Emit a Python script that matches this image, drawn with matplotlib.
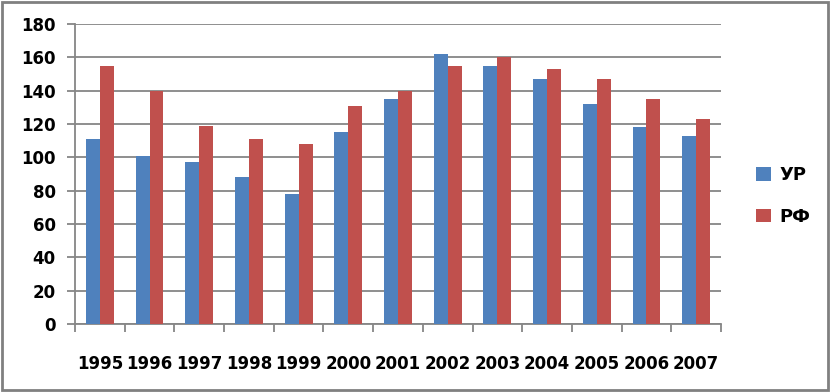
import matplotlib.pyplot as plt
from matplotlib.patches import Rectangle
import numpy as np

years = ["1995", "1996", "1997", "1998", "1999", "2000", "2001",
         "2002", "2003", "2004", "2005", "2006", "2007"]
ur_values = [111, 101, 97, 88, 78, 115, 135, 162, 155, 147, 132, 118, 113]
rf_values = [155, 140, 119, 111, 108, 131, 140, 155, 160, 153, 147, 135, 123]
series_names = ["УР", "РФ"]

BLUE = "#4F81BD"
RED = "#C0504D"
GRID = "#868686"

plt.rcParams["font.family"] = ["DejaVu Sans"]

fig = plt.figure(figsize=(8.3, 3.92), dpi=100)
ax = fig.add_axes([0.0904, 0.1735, 0.7783, 0.7653])

x = np.arange(len(years))
width = 0.28
ax.bar(x - width / 2, ur_values, width, color=BLUE, label=series_names[0], zorder=3)
ax.bar(x + width / 2, rf_values, width, color=RED, label=series_names[1], zorder=3)

ax.set_xlim(-0.5, len(years) - 0.5)
ax.set_ylim(0, 180)
ax.set_yticks(range(0, 181, 20))
ax.yaxis.grid(True, color=GRID, linewidth=1.3, zorder=0)

ax.set_xticks(x)
ax.set_xticklabels(years)
ax.set_xticks(np.arange(-0.5, len(years), 1), minor=True)
ax.tick_params(axis="x", which="major", length=0, pad=22, labelsize=12)
ax.tick_params(axis="x", which="minor", length=6, color=GRID, width=1.3)
ax.tick_params(axis="y", length=6, color=GRID, width=1.3, pad=8, labelsize=12)
for lbl in ax.get_xticklabels() + ax.get_yticklabels():
    lbl.set_fontweight("bold")

for side in ["top", "right"]:
    ax.spines[side].set_visible(False)
for side in ["left", "bottom"]:
    ax.spines[side].set_color(GRID)
    ax.spines[side].set_linewidth(1.3)

leg = fig.legend(loc="center left", bbox_to_anchor=(0.911, 0.5), frameon=False,
                 handlelength=0.8, handleheight=0.8, labelspacing=1.3,
                 handletextpad=0.5, borderpad=0, borderaxespad=0,
                 prop={"size": 13, "weight": "bold"})

fig.patches.append(Rectangle((0.003, 0.004), 0.994, 0.992, transform=fig.transFigure,
                             fill=False, edgecolor="#808080", linewidth=2))

fig.savefig("out.png", dpi=100)
